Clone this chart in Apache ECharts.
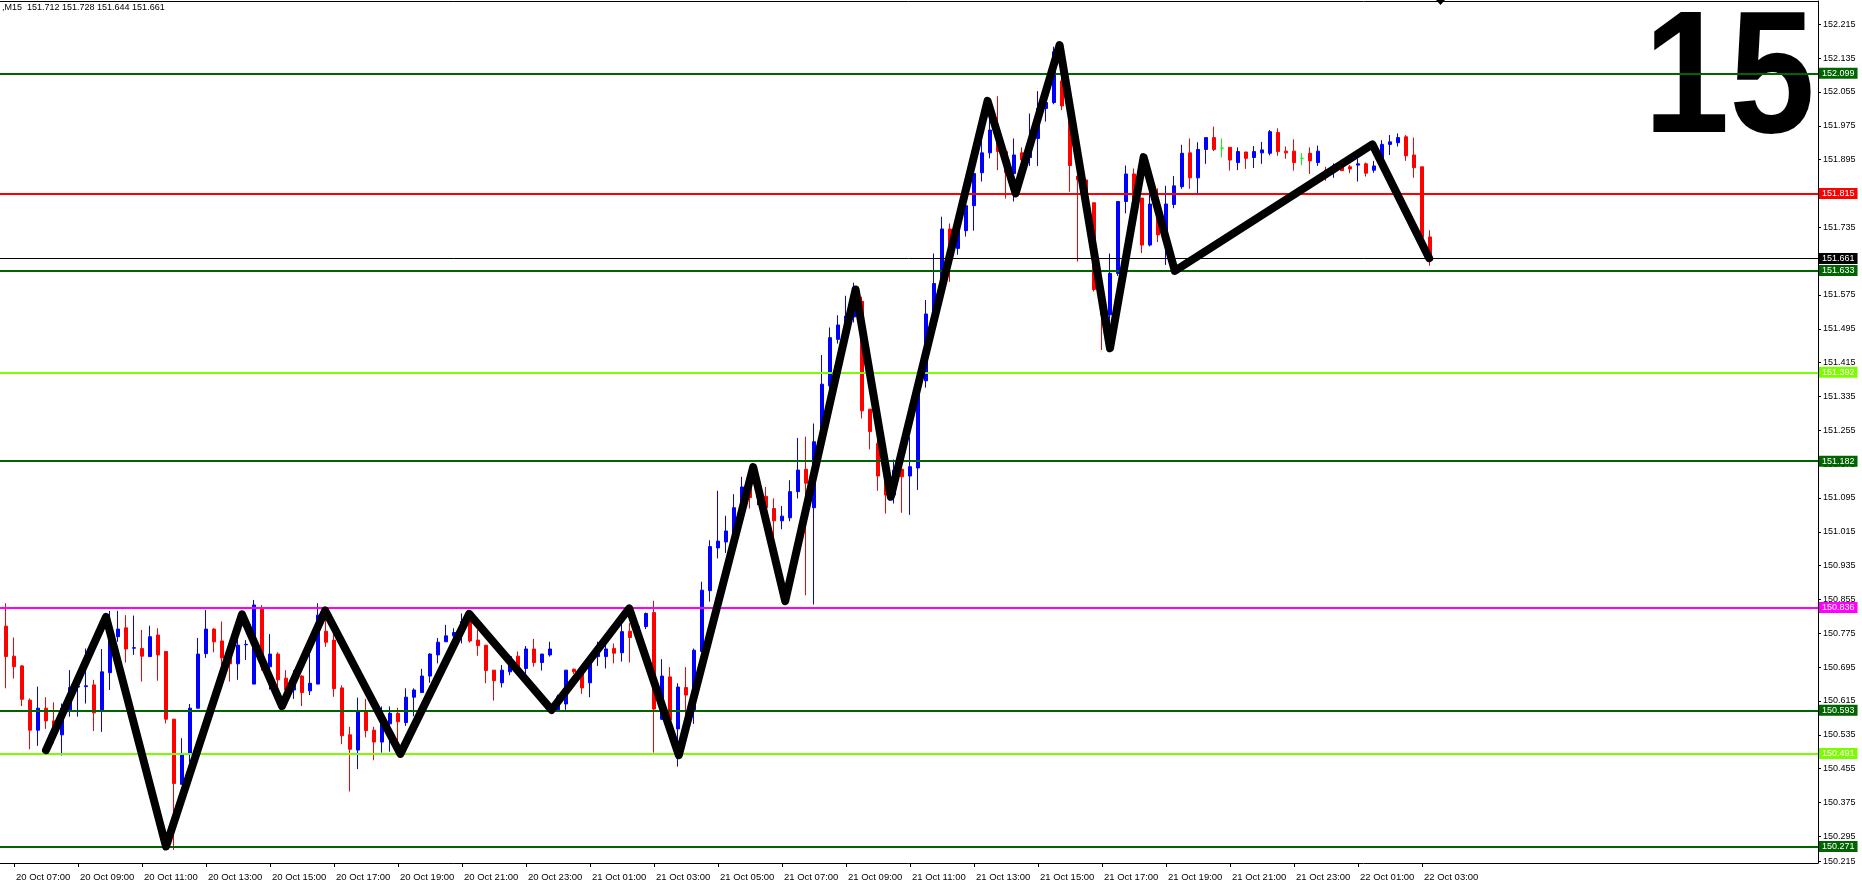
<!DOCTYPE html>
<html><head><meta charset="utf-8">
<script src="https://cdn.jsdelivr.net/npm/echarts@6/dist/echarts.min.js"></script>
<style>html,body{margin:0;padding:0;background:#fff;overflow:hidden}#c{width:1862px;height:890px}</style>
</head><body><div id="c"></div>
<script>
// ---------- data ----------
const headerText = ',M15  151.712 151.728 151.644 151.661';
const bigLabel = '15';
// first visible bar: 20 Oct 06:30, M15 bars
const firstBar = { day: 20, hour: 6, minute: 30 };
const futureSlots = 48;
// [open, close, low, high]
const ohlc = [
[150.816,150.792,150.780,150.850],
[150.792,150.720,150.645,150.846],
[150.721,150.696,150.668,150.765],
[150.698,150.619,150.603,150.700],
[150.617,150.546,150.501,150.621],
[150.546,150.598,150.509,150.649],
[150.598,150.568,150.549,150.624],
[150.568,150.535,150.515,150.612],
[150.535,150.598,150.486,150.609],
[150.594,150.647,150.578,150.688],
[150.648,150.650,150.578,150.678],
[150.649,150.651,150.609,150.739],
[150.653,150.587,150.544,150.665],
[150.594,150.684,150.542,150.738],
[150.682,150.767,150.641,150.828],
[150.767,150.785,150.755,150.828],
[150.788,150.738,150.706,150.818],
[150.740,150.741,150.724,150.817],
[150.739,150.721,150.661,150.783],
[150.720,150.767,150.720,150.793],
[150.771,150.724,150.663,150.787],
[150.732,150.572,150.562,150.732],
[150.572,150.420,150.263,150.573],
[150.418,150.490,150.418,150.527],
[150.490,150.598,150.470,150.608],
[150.598,150.726,150.597,150.764],
[150.727,150.785,150.717,150.830],
[150.785,150.755,150.730,150.787],
[150.757,150.717,150.695,150.803],
[150.717,150.703,150.661,150.743],
[150.703,150.747,150.665,150.775],
[150.748,150.749,150.712,150.759],
[150.655,150.842,150.655,150.854],
[150.834,150.696,150.687,150.842],
[150.696,150.726,150.642,150.773],
[150.726,150.665,150.640,150.730],
[150.669,150.641,150.612,150.688],
[150.641,150.672,150.620,150.688],
[150.674,150.635,150.603,150.676],
[150.639,150.657,150.629,150.726],
[150.655,150.818,150.655,150.846],
[150.780,150.754,150.743,150.822],
[150.759,150.644,150.625,150.808],
[150.646,150.533,150.513,150.652],
[150.535,150.501,150.401,150.554],
[150.499,150.590,150.454,150.623],
[150.590,150.545,150.529,150.620],
[150.546,150.518,150.475,150.554],
[150.518,150.561,150.493,150.602],
[150.561,150.586,150.495,150.602],
[150.586,150.566,150.503,150.599],
[150.564,150.624,150.556,150.645],
[150.624,150.641,150.579,150.645],
[150.635,150.674,150.635,150.691],
[150.674,150.726,150.658,150.728],
[150.724,150.754,150.704,150.764],
[150.755,150.769,150.755,150.795],
[150.769,150.777,150.751,150.787],
[150.779,150.803,150.751,150.822],
[150.822,150.757,150.753,150.825],
[150.759,150.746,150.722,150.783],
[150.747,150.687,150.657,150.747],
[150.688,150.663,150.616,150.688],
[150.658,150.688,150.647,150.700],
[150.684,150.720,150.676,150.724],
[150.721,150.692,150.684,150.732],
[150.692,150.738,150.679,150.745],
[150.738,150.706,150.696,150.762],
[150.706,150.726,150.687,150.726],
[150.724,150.738,150.720,150.755],
[150.594,150.625,150.590,150.630],
[150.608,150.688,150.594,150.688],
[150.690,150.684,150.679,150.692],
[150.682,150.646,150.632,150.688],
[150.658,150.712,150.624,150.712],
[150.720,150.733,150.698,150.755],
[150.720,150.738,150.692,150.751],
[150.739,150.728,150.704,150.751],
[150.729,150.779,150.708,150.801],
[150.780,150.765,150.706,150.799],
[150.763,150.791,150.750,150.799],
[150.791,150.822,150.785,150.824],
[150.824,150.596,150.493,150.852],
[150.572,150.674,150.570,150.714],
[150.672,150.570,150.565,150.695],
[150.549,150.648,150.460,150.657],
[150.647,150.629,150.519,150.695],
[150.590,150.735,150.561,150.739],
[150.732,150.877,150.732,150.897],
[150.876,150.980,150.850,150.995],
[150.977,150.993,150.952,151.112],
[150.991,151.017,150.965,151.053],
[151.009,151.072,150.995,151.104],
[151.072,151.121,151.060,151.145],
[151.121,151.096,151.070,151.125],
[151.096,151.099,151.078,151.114],
[151.099,151.072,151.060,151.121],
[151.070,151.041,150.995,151.094],
[151.041,151.052,151.021,151.076],
[151.048,151.110,151.040,151.137],
[151.110,151.161,151.094,151.237],
[151.163,151.130,150.865,151.240],
[151.072,151.228,150.843,151.271],
[151.226,151.364,151.200,151.433],
[151.360,151.474,151.350,151.498],
[151.470,151.504,151.460,151.527],
[151.503,151.525,151.490,151.573],
[151.523,151.588,151.510,151.604],
[151.560,151.301,151.283,151.571],
[151.305,151.252,151.210,151.305],
[151.224,151.147,151.112,151.232],
[151.153,151.102,151.058,151.153],
[151.102,151.161,151.082,151.186],
[151.163,151.145,151.060,151.163],
[151.147,151.169,151.055,151.240],
[151.166,151.374,151.114,151.374],
[151.372,151.530,151.356,151.563],
[151.531,151.602,151.524,151.673],
[151.595,151.731,151.580,151.760],
[151.731,151.685,151.606,151.744],
[151.685,151.727,151.670,151.760],
[151.727,151.786,151.713,151.796],
[151.786,151.862,151.727,151.878],
[151.864,151.911,151.843,151.965],
[151.911,151.965,151.898,151.989],
[151.945,151.914,151.870,152.045],
[151.914,151.864,151.803,151.914],
[151.862,151.906,151.796,151.945],
[151.911,151.894,151.880,151.924],
[151.900,151.943,151.880,152.004],
[151.945,152.016,151.880,152.057],
[152.016,152.030,151.985,152.056],
[152.030,152.150,152.026,152.162],
[152.081,152.022,152.012,152.115],
[152.022,151.881,151.819,152.022],
[151.856,151.847,151.654,151.856],
[151.847,151.793,151.780,151.848],
[151.793,151.588,151.583,151.793],
[151.588,151.528,151.445,151.595],
[151.528,151.626,151.500,151.673],
[151.626,151.796,151.620,151.796],
[151.796,151.861,151.768,151.881],
[151.861,151.798,151.790,151.874],
[151.804,151.693,151.674,151.804],
[151.693,151.790,151.690,151.827],
[151.790,151.717,151.700,151.827],
[151.717,151.790,151.646,151.833],
[151.789,151.833,151.780,151.856],
[151.831,151.910,151.826,151.930],
[151.911,151.852,151.826,151.945],
[151.852,151.919,151.815,151.936],
[151.919,151.947,151.885,151.947],
[151.947,151.919,151.915,151.973],
[151.922,151.922,151.900,151.945],
[151.924,151.894,151.869,151.924],
[151.888,151.914,151.870,151.924],
[151.913,151.898,151.873,151.913],
[151.900,151.914,151.875,151.927],
[151.911,151.918,151.885,151.937],
[151.910,151.961,151.905,151.965],
[151.959,151.914,151.904,151.969],
[151.915,151.911,151.897,151.926],
[151.915,151.888,151.869,151.943],
[151.898,151.898,151.882,151.910],
[151.910,151.892,151.861,151.924],
[151.888,151.915,151.880,151.928],
[151.870,151.866,151.845,151.878],
[151.874,151.880,151.852,151.886],
[151.882,151.869,151.868,151.894],
[151.878,151.873,151.863,151.882],
[151.882,151.885,151.843,151.898],
[151.885,151.863,151.855,151.888],
[151.870,151.880,151.864,151.892],
[151.885,151.931,151.880,151.941],
[151.931,151.937,151.906,151.953],
[151.935,151.947,151.926,151.957],
[151.949,151.904,151.892,151.953],
[151.906,151.876,151.852,151.947],
[151.878,151.711,151.711,151.878],
[151.712,151.661,151.644,151.728]
];
// horizontal levels
const levelPrices = [152.099, 151.815, 151.661, 151.633, 151.392, 151.182, 150.836, 150.593, 150.491, 150.271];
const levelColors = ['#006400', '#ff0000', '#000000', '#006400', '#7cfc00', '#006400', '#ff00ff', '#006400', '#7cfc00', '#006400'];
const levelWidths = [2, 2, 1, 2, 2, 2, 2, 2, 2, 2];
// price scale tick labels
const priceTicks = [150.295,150.375,150.455,150.535,150.615,150.695,150.775,150.855,150.935,151.015,151.095,151.175,151.255,151.335,151.415,151.495,151.575,151.655,151.735,151.815,151.895,151.975,152.055,152.135,152.215];
const bottomTickLabel = '150.215';
const bottomTickPos = 150.2355;
// hand-drawn zigzag: [bar position (0 = first full bar at 20 Oct 06:45), price]
const zigzagBars   = [5.0, 12.5, 20.0, 29.5, 34.5, 39.9, 49.3, 57.9, 68.2, 77.9, 84.1, 93.4, 97.4, 106.2, 110.6, 122.7, 126.2, 131.7, 138.0, 142.2, 146.1, 170.8, 177.9];
const zigzagPrices = [150.499,150.814,150.271,150.820,150.603,150.829,150.490,150.821,150.594,150.834,150.487,151.168,150.851,151.588,151.098,152.034,151.815,152.166,151.449,151.901,151.632,151.931,151.662];

// ---------- build ----------
const pad = n => (n < 10 ? '0' : '') + n;
const categories = [];
{
  let d = firstBar.day, h = firstBar.hour, m = firstBar.minute;
  for (let i = 0; i < ohlc.length + futureSlots; i++) {
    categories.push(d + ' Oct ' + pad(h) + ':' + pad(m));
    m += 15; if (m >= 60) { m = 0; h++; if (h >= 24) { h = 0; d++; } }
  }
}
const isTimeMark = (idx) => {
  const v = categories[idx];
  const hh = parseInt(v.slice(-5, -3), 10), mm = v.slice(-2);
  return mm === '00' && hh % 2 === 1 && idx < ohlc.length;
};
// zigzag on the overlay value axis: bar index k maps to category index k+1
const zigzag = zigzagBars.map((b, i) => [b + 1, zigzagPrices[i]]);
const nCat = categories.length;

const FONT = 'Liberation Sans';
const chart = echarts.init(document.getElementById('c'), null, { renderer: 'canvas' });
chart.setOption({
  animation: false,
  backgroundColor: '#ffffff',
  grid: { left: -6, right: 44, top: 1, bottom: 27, containLabel: false, outerBoundsMode: 'none' },
  xAxis: [{
    type: 'category', data: categories, boundaryGap: true,
    axisLine: { show: true, onZero: false, lineStyle: { color: '#000', width: 1 } },
    axisTick: { show: true, alignWithLabel: true, length: 4, interval: (i) => isTimeMark(i), lineStyle: { color: '#000' } },
    axisLabel: { show: true, interval: (i) => isTimeMark(i), align: 'left', color: '#000', fontSize: 9.5, fontFamily: FONT, margin: 9, padding: [0, 0, 0, 2] },
    splitLine: { show: false }
  }, {
    type: 'value', position: 'top', min: -0.5, max: nCat - 0.5,
    axisLine: { show: true, onZero: false, lineStyle: { color: '#000', width: 1 } },
    axisTick: { show: false }, axisLabel: { show: false }, splitLine: { show: false }
  }],
  yAxis: {
    type: 'value', position: 'right', min: 150.232, max: 152.270, scale: true,
    splitLine: { show: false },
    axisLine: { show: true, onZero: false, lineStyle: { color: '#000', width: 1 } },
    axisTick: { show: true, length: 3, customValues: priceTicks.concat([bottomTickPos]), lineStyle: { color: '#000' } },
    axisLabel: {
      show: true, customValues: priceTicks.concat([bottomTickPos]), color: '#000', fontSize: 9, fontFamily: FONT, margin: 5,
      formatter: v => (v < 150.24 ? bottomTickLabel : v.toFixed(3))
    }
  },
  series: [{
    type: 'candlestick', data: ohlc, barWidth: 4, clip: true,
    itemStyle: { color: '#0000ff', color0: '#ff0000', borderColor: '#0000ff', borderColor0: '#ff0000', borderColorDoji: '#00ff00', borderWidth: 1 },
    markLine: {
      symbol: ['none', 'none'], silent: true, animation: false, precision: 3,
      data: levelPrices.map((p, i) => ({
        yAxis: p,
        lineStyle: { color: levelColors[i], width: levelWidths[i], type: 'solid' },
        label: { show: true, position: 'end', distance: 1, formatter: p.toFixed(3), color: '#fff', backgroundColor: levelColors[i], padding: [1, 3, 0, 3], fontSize: 9, fontFamily: FONT, lineHeight: 10 }
      }))
    }
  }, {
    type: 'line', xAxisIndex: 1, data: zigzag, symbol: 'none', showSymbol: false, z: 5,
    lineStyle: { color: '#000', width: 8, cap: 'round', join: 'round' }
  }],
  graphic: [{
    type: 'text', left: 2, top: 3,
    style: { text: headerText, fill: '#000', font: '9px "' + FONT + '"' }
  }, {
    type: 'text', x: 1815, y: -4, originX: 0, originY: 0, scaleX: 0.88, z: 1,
    style: { text: bigLabel, fill: '#000', font: 'bold 175px "' + FONT + '"', align: 'right', verticalAlign: 'top', textAlign: 'right', textVerticalAlign: 'top' }
  }, {
    type: 'polygon', shape: { points: [[1436, 0], [1445, 0], [1440.5, 5]] }, style: { fill: '#000' }
  }]
});
</script>
</body></html>
